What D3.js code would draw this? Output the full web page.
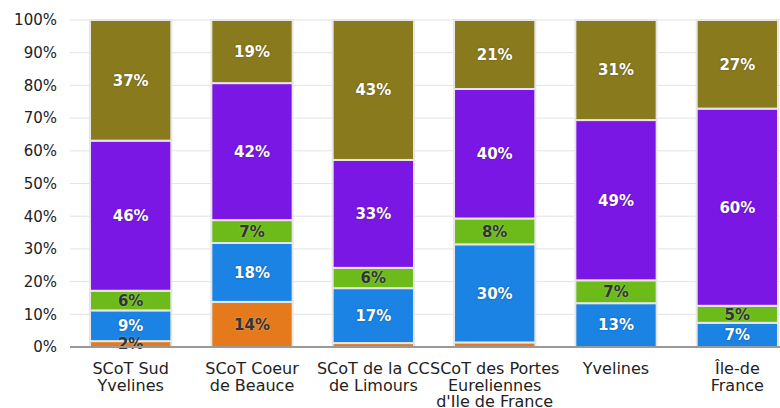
<!DOCTYPE html>
<html>
<head>
<meta charset="utf-8">
<script src="https://cdn.jsdelivr.net/npm/d3@7"></script>
<style>
  body { margin: 0; background: #fff; }
  svg { font-family: "DejaVu Sans", Verdana, sans-serif; }
</style>
</head>
<body>
<div id="chart"></div>
<script>
// categories, bottom-to-top series (share in %), tick labels
const categories = ["SCoT Sud Yvelines", "SCoT Coeur de Beauce", "SCoT de la CC de Limours",
    "SCoT des Portes Eureliennes d'Ile de France", "Yvelines", "Île-de-France"];
const tickLines = [
    ["SCoT Sud", "Yvelines"],
    ["SCoT Coeur", "de Beauce"],
    ["SCoT de la CC", "de Limours"],
    ["SCoT des Portes", "Eureliennes", "d'Ile de France"],
    ["Yvelines"],
    ["Île-de", "France"]
];
const seriesNames = ["s1", "s2", "s3", "s4", "s5"];
const orange = [1.8, 13.8, 1.2, 1.4, 0, 0];
const blue   = [9.4, 18.0, 16.8, 30.0, 13.4, 7.4];
const green  = [6.0, 7.0, 6.2, 7.9, 7.0, 5.2];
const purple = [45.9, 41.9, 33.0, 39.6, 49.0, 60.3];
const olive  = [36.9, 19.3, 42.8, 21.1, 30.6, 27.1];
const yTicks = [0, 10, 20, 30, 40, 50, 60, 70, 80, 90, 100];

const colors = ["#e47a1c", "#1a83e4", "#6cbb1a", "#7b17e5", "#8a7a1e"];
const labelColors = ["#333", "#fff", "#333", "#fff", "#fff"];

const width = 780, height = 408;
const margin = {top: 20, right: -18, bottom: 61, left: 70};

// build rows for the stack
let rows = categories.map((c, i) => ({
    cat: c, s1: orange[i], s2: blue[i], s3: green[i], s4: purple[i], s5: olive[i]
}));
let stacked = d3.stack().keys(seriesNames)(rows);

let x = d3.scaleBand()
    .domain(categories)
    .range([margin.left, width - margin.right])
    .paddingInner(0.33)
    .paddingOuter(0.165);

let y = d3.scaleLinear()
    .domain([0, 100])
    .range([height - margin.bottom, margin.top]);

let svg = d3.select("#chart").append("svg")
    .attr("width", width)
    .attr("height", height);

// grid lines
svg.append("g")
    .selectAll("line")
    .data(yTicks)
    .enter().append("line")
    .attr("x1", margin.left)
    .attr("x2", width)
    .attr("y1", d => y(d))
    .attr("y2", d => y(d))
    .attr("stroke", "#e3e3e3")
    .attr("stroke-width", 1);

// y axis labels
let yAxis = svg.append("g")
    .attr("transform", "translate(" + margin.left + ",0)")
    .call(d3.axisLeft(y).tickValues(yTicks).tickFormat(d => d + "%").tickSize(0).tickPadding(13));
yAxis.select(".domain").remove();
yAxis.selectAll("text")
    .attr("font-size", 15)
    .attr("font-family", "DejaVu Sans, sans-serif")
    .attr("fill", "#222");

// bars
let layer = svg.selectAll(".layer")
    .data(stacked)
    .enter().append("g")
    .attr("class", "layer")
    .attr("fill", (d, i) => colors[i]);

layer.selectAll("rect")
    .data(d => d.filter(p => p[1] - p[0] > 0))
    .enter().append("rect")
    .attr("x", d => x(d.data.cat))
    .attr("y", d => y(d[1]))
    .attr("width", x.bandwidth())
    .attr("height", d => Math.max(0, y(d[0]) - y(d[1])))
    .attr("stroke", "#e6e6e6")
    .attr("stroke-width", 2);

// value labels
stacked.forEach((s, si) => {
    svg.append("g")
        .selectAll("text")
        .data(s.filter(p => Math.round(p[1] - p[0]) >= 2))
        .enter().append("text")
        .attr("x", d => x(d.data.cat) + x.bandwidth() / 2)
        .attr("y", d => (y(d[0]) + y(d[1])) / 2)
        .attr("dy", "0.36em")
        .attr("text-anchor", "middle")
        .attr("font-size", 15)
        .attr("font-weight", "bold")
        .attr("fill", labelColors[si])
        .style("text-shadow", labelColors[si] === "#fff" ? "0 0 2px rgba(0,0,0,0.35)" : "0 0 2px rgba(255,255,255,0.4)")
        .text(d => Math.round(d[1] - d[0]) + "%");
});

// baseline
svg.append("line")
    .attr("x1", margin.left)
    .attr("x2", width)
    .attr("y1", y(0))
    .attr("y2", y(0))
    .attr("stroke", "#999")
    .attr("stroke-width", 2);

// x labels
let xl = svg.append("g")
    .selectAll("text")
    .data(categories)
    .enter().append("text")
    .attr("x", d => x(d) + x.bandwidth() / 2)
    .attr("y", y(0) + 27)
    .attr("text-anchor", "middle")
    .attr("font-size", 16)
    .attr("fill", "#222");

xl.selectAll("tspan")
    .data((d, i) => tickLines[i])
    .enter().append("tspan")
    .attr("x", function() { return this.parentNode.getAttribute("x"); })
    .attr("dy", (d, i) => i === 0 ? 0 : 16.5)
    .text(d => d);
</script>
</body>
</html>
